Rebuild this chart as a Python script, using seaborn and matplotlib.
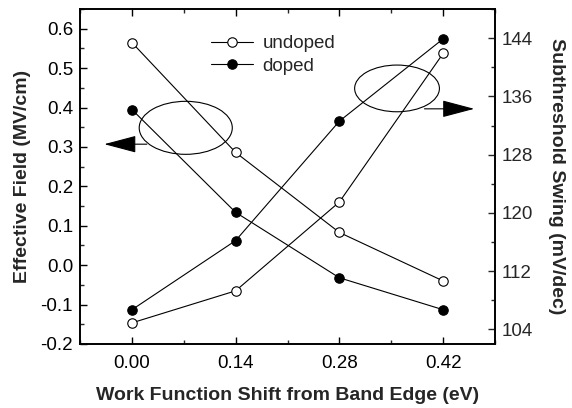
import numpy as np
import pandas as pd
import matplotlib
matplotlib.use("Agg")
import matplotlib.pyplot as plt
import seaborn as sns
from matplotlib.patches import Ellipse
from matplotlib.ticker import MultipleLocator, FixedLocator
from matplotlib.lines import Line2D

# ---- data ----
work_function_shift = [0.00, 0.14, 0.28, 0.42]
field_undoped = [0.565, 0.286, 0.083, -0.040]
field_doped = [0.395, 0.134, -0.032, -0.113]
ss_undoped = [104.9, 109.3, 121.5, 141.9]
ss_doped = [106.7, 116.2, 132.6, 143.9]
x_ticks = [0.00, 0.14, 0.28, 0.42]
x_tick_labels = ["0.00", "0.14", "0.28", "0.42"]
left_ticks = [-0.2, -0.1, 0.0, 0.1, 0.2, 0.3, 0.4, 0.5, 0.6]
right_ticks = [104, 112, 120, 128, 136, 144]
series_labels = ["undoped", "doped"]

sns.set_theme(style="ticks")
plt.rcParams['font.family'] = ['Liberation Sans', 'DejaVu Sans']

fig = plt.figure(figsize=(5.72, 4.08), dpi=100)
ax = fig.add_axes([80/572, 1-344/408, (495-80)/572, (344-9)/408])
ax2 = ax.twinx()

lw = 0.8
ms = 6.8
common = dict(color="black", linewidth=lw, marker="o", markersize=ms,
              markeredgecolor="black", markeredgewidth=0.8)

sns.lineplot(x=work_function_shift, y=field_undoped, ax=ax, markerfacecolor="white", **common)
sns.lineplot(x=work_function_shift, y=field_doped, ax=ax, markerfacecolor="black", **common)
sns.lineplot(x=work_function_shift, y=ss_undoped, ax=ax2, markerfacecolor="white", **common)
sns.lineplot(x=work_function_shift, y=ss_doped, ax=ax2, markerfacecolor="black", **common)

ax.set_xlim(-0.07, 0.49)
ax.set_ylim(-0.2, 0.65)
ax2.set_ylim(102, 148)

ax.set_xticks(x_ticks)
ax.set_xticklabels(x_tick_labels)
ax.xaxis.set_minor_locator(FixedLocator([-0.07, 0.07, 0.21, 0.35, 0.49]))
ax.set_yticks(left_ticks)
ax.set_yticklabels([f"{v:.1f}" for v in left_ticks])
ax.yaxis.set_minor_locator(MultipleLocator(0.05))
ax2.set_yticks(right_ticks)
ax2.yaxis.set_minor_locator(MultipleLocator(4))

tick_fs = 13.5
ax.tick_params(axis="both", which="major", direction="in", length=5, width=1,
               labelsize=tick_fs, top=True, right=False, colors="black", pad=5)
ax.tick_params(axis="x", which="major", pad=8)
ax.tick_params(axis="both", which="minor", direction="in", length=3, width=1,
               top=True, right=False)
ax2.tick_params(axis="y", which="major", direction="in", length=5, width=1,
                labelsize=tick_fs, pad=5)
ax2.tick_params(axis="y", which="minor", direction="in", length=3, width=1)

for a in (ax, ax2):
    for s in a.spines.values():
        s.set_linewidth(1.2)
        s.set_color("black")

lab_fs = 14
ax.set_xlabel("Work Function Shift from Band Edge (eV)", fontsize=lab_fs, fontweight="bold", labelpad=10.5)
ax.set_ylabel("Effective Field (MV/cm)", fontsize=lab_fs, fontweight="bold", labelpad=7)
ax2.set_ylabel("Subthreshold Swing (mV/dec)", fontsize=lab_fs, fontweight="bold",
               rotation=270, labelpad=23)

# legend
handles = [
    Line2D([], [], color="black", linewidth=lw, marker="o", markersize=ms,
           markerfacecolor="white", markeredgecolor="black", markeredgewidth=0.8),
    Line2D([], [], color="black", linewidth=lw, marker="o", markersize=ms,
           markerfacecolor="black", markeredgecolor="black", markeredgewidth=0.8),
]
ax.legend(handles, series_labels, loc="upper left", bbox_to_anchor=(0.316, 0.922),
          frameon=False, fontsize=tick_fs, handlelength=2.24, handletextpad=0.5,
          labelspacing=0.3, borderaxespad=0, borderpad=0)

# annotations: ellipses and arrows
ax.add_patch(Ellipse((0.0727, 0.3485), 0.1256, 0.1345, fill=False, edgecolor="black", linewidth=0.8))
ax.add_patch(Ellipse((0.3578, 0.4485), 0.1144, 0.1185, fill=False, edgecolor="black", linewidth=0.8))
ax.annotate("", xy=(-0.0373, 0.307), xytext=(0.0202, 0.307),
            arrowprops=dict(arrowstyle="-|>,head_length=1.7,head_width=0.45",
                            color="black", linewidth=0.8, shrinkA=0, shrinkB=0))
ax.annotate("", xy=(0.462, 0.3967), xytext=(0.3948, 0.3967),
            arrowprops=dict(arrowstyle="-|>,head_length=1.7,head_width=0.45",
                            color="black", linewidth=0.8, shrinkA=0, shrinkB=0))

fig.savefig("out.png", dpi=100)
